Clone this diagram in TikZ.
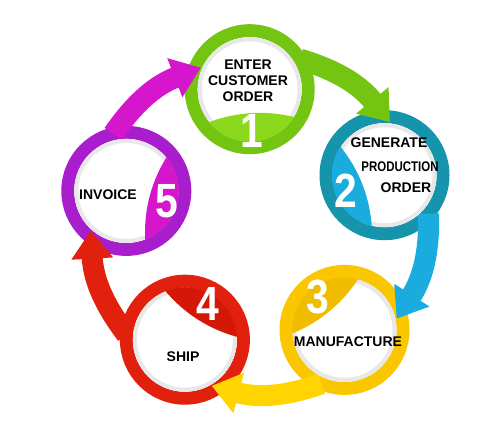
\documentclass[tikz,border=0pt]{standalone}
\usepackage{fontspec}
\setmainfont{Liberation Sans}
\usetikzlibrary{arrows.meta,calc}

\definecolor{greenring}{RGB}{116,196,18}
\definecolor{greenseg}{RGB}{140,216,28}
\definecolor{bluering}{RGB}{22,148,172}
\definecolor{blueseg}{RGB}{26,172,222}
\definecolor{yellowring}{RGB}{250,198,0}
\definecolor{yellowseg}{RGB}{240,188,0}
\definecolor{yellowtail}{RGB}{255,212,0}
\definecolor{redring}{RGB}{226,32,14}
\definecolor{redseg}{RGB}{212,24,8}
\definecolor{purplering}{RGB}{168,30,204}
\definecolor{purpleseg}{RGB}{214,22,204}

\tikzset{
  ring/.style={circle,draw,fill=white,line width=13pt,minimum size=117pt,inner sep=0pt,outer sep=0pt},
  tail/.style={line width=21pt,-{Triangle[length=28pt,width=40pt]},shorten >=-7pt},
  inside/.style={fill=white},
  rim/.style={draw=black!9,line width=4pt},
  lbl/.style={font=\bfseries\fontsize{14}{16}\selectfont,align=center,inner sep=0pt},
  num/.style={font=\bfseries\fontsize{48}{48}\selectfont,text=white,inner sep=0pt}
}

\begin{document}
\begin{tikzpicture}[x=1pt,y=1pt]
        \useasboundingbox (0,0) rectangle (500,439);
        \coordinate (hub) at (258,214);
        \node [ring,draw=greenring] (one) at (249.7,349.8) {};
        \node [ring,draw=bluering] (two) at (384.5,263.8) {};
        \node [ring,draw=yellowring] (three) at (344.5,109.1) {};
        \node [ring,draw=redring] (four) at (184.9,99.3) {};
        \node [ring,draw=purplering] (five) at (126.3,248.1) {};
%        arrows round the cycle
        \draw [tail,greenring] (one.31.5) to [bend left=17] (two.89.5);
        \draw [tail,blueseg] (two.319.5) to [bend left=17] (three.17.5);
        \draw [tail,yellowtail] (three.247.5) to [bend left=17] (four.305.5);
        \draw [tail,redring] (four.175.5) to [bend left=17] (five.233.5);
        \draw [tail,purpleseg] (five.103.5) to [bend left=17] (one.161.5);
%        white insides again, then segments facing the hub
        \path [inside] (one.center) circle[radius=52];
        \path [inside] (two.center) circle[radius=52];
        \path [inside] (three.center) circle[radius=52];
        \path [inside] (four.center) circle[radius=52];
        \path [inside] (five.center) circle[radius=52];
        \path [rim] (one.center) circle[radius=50];
        \path [rim] (two.center) circle[radius=50];
        \path [rim] (three.center) circle[radius=50];
        \path [rim] (four.center) circle[radius=50];
        \path [rim] (five.center) circle[radius=50];
        \begin{scope}
          \clip (one.center) circle[radius=52.5];
          \fill [greenseg] ($(one.center)!166pt!(hub)$) circle[radius=142];
        \end{scope}
        \begin{scope}
          \clip (two.center) circle[radius=52.5];
          \fill [blueseg] ($(two.center)!166pt!(hub)$) circle[radius=142];
        \end{scope}
        \begin{scope}
          \clip (three.center) circle[radius=52.5];
          \fill [yellowseg] ($(three.center)!166pt!(hub)$) circle[radius=142];
        \end{scope}
        \begin{scope}
          \clip (four.center) circle[radius=52.5];
          \fill [redseg] ($(four.center)!166pt!(hub)$) circle[radius=142];
        \end{scope}
        \begin{scope}
          \clip (five.center) circle[radius=52.5];
          \fill [purpleseg] ($(five.center)!166pt!(hub)$) circle[radius=142];
        \end{scope}
        \node [num] (n1) at ($(one.center)!42pt!(hub)$) {\scalebox{0.85}[1]{1}};
        \node [num] (n2) at ($(two.center)!42pt!(hub)$) {\scalebox{0.85}[1]{2}};
        \node [num] (n3) at ($(three.center)!42pt!(hub)$) {\scalebox{0.85}[1]{3}};
        \node [num] (n4) at ($(four.center)!42pt!(hub)$) {\scalebox{0.85}[1]{4}};
        \node [num] (n5) at ($(five.center)!42pt!(hub)$) {\scalebox{0.85}[1]{5}};
        \node [lbl] (t1) at (248,358) {ENTER\\CUSTOMER\\ORDER};
        \node [lbl] (t2a) at (389,296) {GENERATE};
        \node [lbl] (t2b) at (400,272) {\scalebox{0.82}[1]{PRODUCTION}};
        \node [lbl] (t2c) at (406,251) {ORDER};
        \node [lbl] (t3) at (348,97) {MANUFACTURE};
        \node [lbl] (t4) at (183,82) {SHIP};
        \node [lbl] (t5) at (108,244) {INVOICE};
      \end{tikzpicture}
\end{document}
